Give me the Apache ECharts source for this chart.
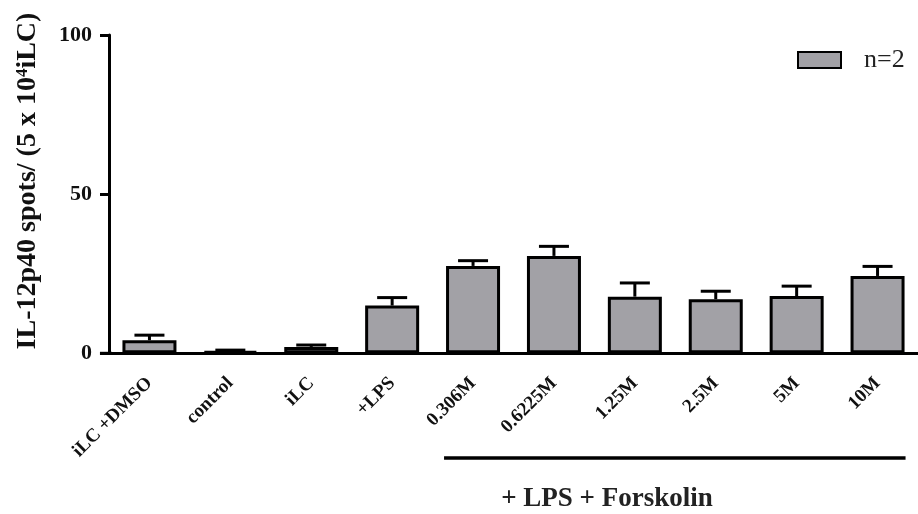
<!DOCTYPE html>
<html>
<head>
<meta charset="utf-8">
<script src="https://cdn.jsdelivr.net/npm/echarts@6/dist/echarts.min.js"></script>
<style>
html,body{margin:0;padding:0;background:#fff;}
#chart{width:918px;height:514px;}
</style>
</head>
<body>
<div id="chart"></div>
<script>
var categories = ['iLC +DMSO', 'control', 'iLC', '+LPS', '0.306M', '0.6225M', '1.25M', '2.5M', '5M', '10M'];
var means = [4.1, 0.6, 2.0, 15.0, 27.45, 30.6, 17.8, 17.0, 18.0, 24.3];
var errors = [1.6, 0.4, 0.6, 2.5, 1.65, 3.0, 4.3, 2.5, 3.1, 3.0];
var yTicks = [0, 50, 100];
var seriesName = 'n=2';
var yTitle = 'IL-12p40 spots/ (5 x 10{sup|4}iLC)';
var groupTitle = '+ LPS + Forskolin';
var groupFirst = '0.306M';
var groupLast = '10M';

var FONT = '"Liberation Serif", "Times New Roman", serif';
var chart = echarts.init(document.getElementById('chart'), null, {renderer: 'canvas'});

var errData = means.map(function (m, i) { return [i, m, m + errors[i]]; });

var option = {
  animation: false,
  backgroundColor: '#fff',
  grid: {left: 109, top: 35, width: 811, height: 318.3, containLabel: false},
  legend: {
    show: true,
    left: 797, top: 47, padding: 0,
    itemWidth: 43, itemHeight: 16,
    data: [{name: seriesName, icon: 'rect'}],
    textStyle: {fontFamily: FONT, fontSize: 26, color: '#222', padding: [0, 0, 0, 18]}
  },
  xAxis: {
    type: 'category',
    data: categories,
    boundaryGap: true,
    axisLine: {show: true, lineStyle: {color: '#000', width: 3}},
    axisTick: {show: false},
    axisLabel: {
      interval: 0, rotate: 45, margin: 27,
      fontFamily: FONT, fontWeight: 'bold', fontSize: 19, color: '#111'
    },
    splitLine: {show: false}
  },
  yAxis: {
    type: 'value',
    min: yTicks[0], max: yTicks[yTicks.length - 1], interval: yTicks[1] - yTicks[0],
    axisLine: {show: true, lineStyle: {color: '#000', width: 3}},
    axisTick: {show: true, length: 9, lineStyle: {color: '#000', width: 3}},
    axisLabel: {margin: 17, fontFamily: FONT, fontWeight: 'bold', fontSize: 22, color: '#111'},
    splitLine: {show: false}
  },
  series: [
    {
      name: seriesName,
      type: 'bar',
      data: means,
      barWidth: 54,
      itemStyle: {color: '#a2a1a6', borderColor: '#000', borderWidth: 3},
      z: 2
    },
    {
      name: 'err',
      type: 'custom',
      data: errData,
      z: 3,
      renderItem: function (params, api) {
        var i = api.value(0);
        var p0 = api.coord([i, api.value(1)]);
        var p1 = api.coord([i, api.value(2)]);
        var half = 15;
        return {
          type: 'group',
          children: [
            {type: 'line', shape: {x1: p0[0], y1: p0[1], x2: p1[0], y2: p1[1]}, style: {stroke: '#000', lineWidth: 3}},
            {type: 'line', shape: {x1: p1[0] - half, y1: p1[1], x2: p1[0] + half, y2: p1[1]}, style: {stroke: '#000', lineWidth: 3}}
          ]
        };
      }
    }
  ]
};
chart.setOption(option);

var pFirst = chart.convertToPixel({xAxisIndex: 0}, groupFirst);
var pLast = chart.convertToPixel({xAxisIndex: 0}, groupLast);
var yZero = chart.convertToPixel({yAxisIndex: 0}, 0);
var xAxisStart = chart.convertToPixel({xAxisIndex: 0}, categories[0]) - 49.5;

chart.setOption({
  graphic: [
    {
      type: 'line',
      shape: {x1: xAxisStart, y1: yZero, x2: 112, y2: yZero},
      style: {stroke: '#000', lineWidth: 3}
    },
    {
      type: 'line',
      shape: {x1: pFirst - 29, y1: 458, x2: pLast + 28, y2: 458},
      style: {stroke: '#000', lineWidth: 3.5}
    },
    {
      type: 'text',
      x: 607, y: 499,
      style: {
        text: groupTitle,
        font: 'bold 27px ' + FONT,
        fill: '#222',
        align: 'center', verticalAlign: 'middle'
      }
    },
    {
      type: 'text',
      x: 28, y: 181,
      rotation: Math.PI / 2,
      style: {
        text: yTitle,
        font: 'bold 28px ' + FONT,
        fill: '#111',
        align: 'center', verticalAlign: 'middle',
        rich: {
          sup: {fontSize: 17, fontWeight: 'bold', fontFamily: FONT, verticalAlign: 'top', fill: '#111', padding: [0, 0, 8, 0]}
        }
      }
    }
  ]
});
</script>
</body>
</html>
